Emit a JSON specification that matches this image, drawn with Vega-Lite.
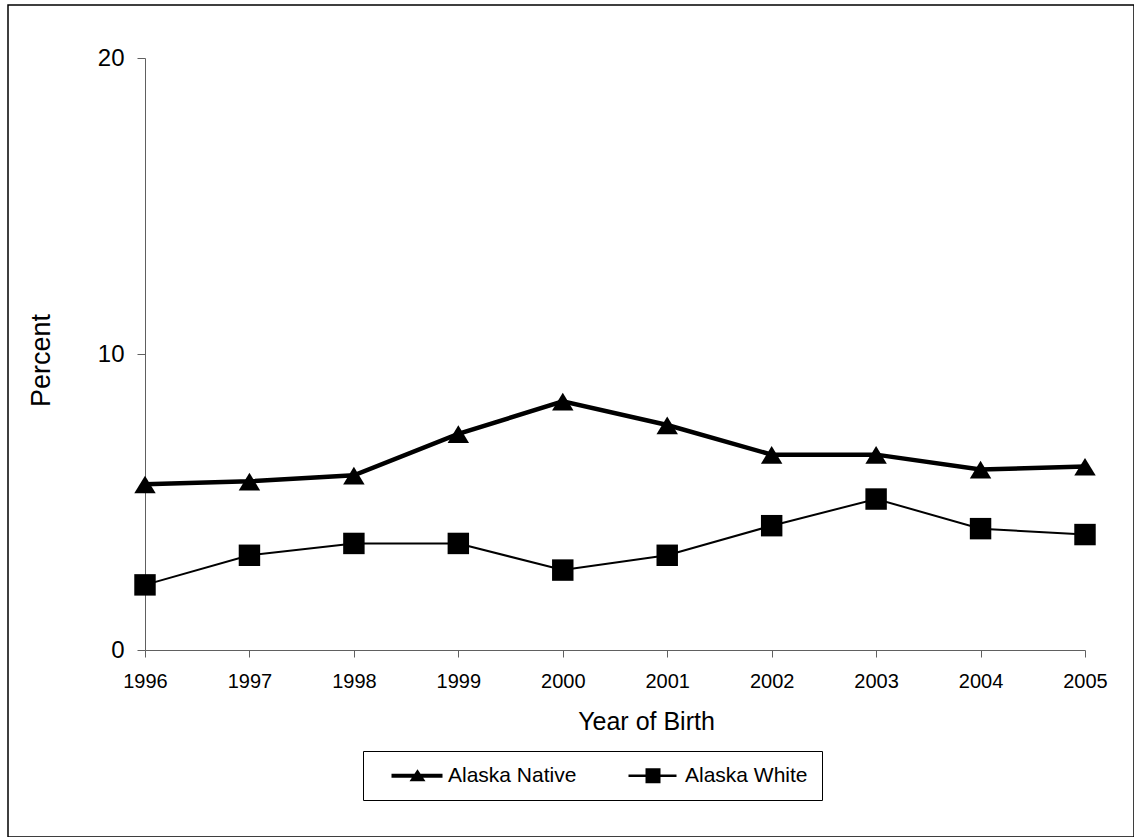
{
  "$schema": "https://vega.github.io/schema/vega-lite/v6.json",
  "width": 1126,
  "height": 832,
  "autosize": {"type": "none"},
  "padding": {"left": 8, "top": 5, "right": 0, "bottom": 0},
  "background": "white",
  "config": {
    "font": "Liberation Sans",
    "view": {"stroke": "black", "strokeWidth": 1.5},
    "axis": {
      "labelColor": "black",
      "titleColor": "black",
      "domainColor": "#606060",
      "tickColor": "#606060",
      "grid": false,
      "labelFlush": false,
      "labelFont": "Liberation Sans",
      "titleFont": "Liberation Sans",
      "titleFontWeight": "normal"
    }
  },
  "datasets": {
    "rates": [
      {"year": 1996, "series": "Alaska Native", "value": 5.6},
      {"year": 1997, "series": "Alaska Native", "value": 5.7},
      {"year": 1998, "series": "Alaska Native", "value": 5.9},
      {"year": 1999, "series": "Alaska Native", "value": 7.3},
      {"year": 2000, "series": "Alaska Native", "value": 8.4},
      {"year": 2001, "series": "Alaska Native", "value": 7.6},
      {"year": 2002, "series": "Alaska Native", "value": 6.6},
      {"year": 2003, "series": "Alaska Native", "value": 6.6},
      {"year": 2004, "series": "Alaska Native", "value": 6.1},
      {"year": 2005, "series": "Alaska Native", "value": 6.2},
      {"year": 1996, "series": "Alaska White", "value": 2.2},
      {"year": 1997, "series": "Alaska White", "value": 3.2},
      {"year": 1998, "series": "Alaska White", "value": 3.6},
      {"year": 1999, "series": "Alaska White", "value": 3.6},
      {"year": 2000, "series": "Alaska White", "value": 2.7},
      {"year": 2001, "series": "Alaska White", "value": 3.2},
      {"year": 2002, "series": "Alaska White", "value": 4.2},
      {"year": 2003, "series": "Alaska White", "value": 5.1},
      {"year": 2004, "series": "Alaska White", "value": 4.1},
      {"year": 2005, "series": "Alaska White", "value": 3.9}
    ],
    "gridlines": [{"value": 10}, {"value": 20}]
  },
  "resolve": {"scale": {"shape": "independent"}, "legend": {"shape": "independent"}},
  "encoding": {
    "x": {
      "field": "year",
      "type": "quantitative",
      "scale": {"domain": [1996, 2005], "range": [137, 1077], "nice": false, "zero": false},
      "axis": {
        "orient": "bottom",
        "offset": -187,
        "values": [1996, 1997, 1998, 1999, 2000, 2001, 2002, 2003, 2004, 2005],
        "format": "d",
        "labelFontSize": 20,
        "tickSize": 7,
        "labelPadding": 14,
        "title": "Year of Birth",
        "titleFontSize": 25,
        "titlePadding": 18,
        "titleX": 638
      }
    },
    "y": {
      "field": "value",
      "type": "quantitative",
      "scale": {"domain": [0, 20], "range": [645, 53], "nice": false},
      "axis": {
        "orient": "left",
        "offset": -137,
        "values": [0, 10, 20],
        "labelFontSize": 24,
        "tickSize": 8,
        "labelPadding": 13,
        "title": "Percent",
        "titleFontSize": 27,
        "titlePadding": 42,
        "titleY": 355
      }
    }
  },
  "layer": [
    {
      "data": {"name": "gridlines"},
      "mark": {"type": "rule", "color": "#808080", "strokeWidth": 1},
      "encoding": {
        "x": {"datum": 1996, "type": "quantitative"},
        "x2": {"datum": 2005}
      }
    },
    {
      "data": {"name": "rates"},
      "mark": {"type": "line", "color": "black"},
      "encoding": {
        "detail": {"field": "series", "type": "nominal"},
        "strokeWidth": {
          "condition": {"test": "datum.series === 'Alaska Native'", "value": 4.5},
          "value": 2
        }
      }
    },
    {
      "data": {"name": "rates"},
      "mark": {"type": "point", "filled": true, "color": "black", "opacity": 1, "size": 460, "strokeWidth": 0},
      "encoding": {
        "shape": {
          "field": "series",
          "type": "nominal",
          "scale": {"domain": ["Alaska Native", "Alaska White"], "range": ["M0,-0.8L1,0.85L-1,0.85Z", "square"]},
          "legend": null
        }
      }
    },
    {
      "data": {"name": "rates"},
      "mark": {"type": "point", "filled": true, "color": "black", "opacity": 1, "size": 0, "strokeWidth": 0},
      "encoding": {
        "shape": {
          "field": "series",
          "type": "nominal",
          "scale": {
            "domain": ["Alaska Native", "Alaska White"],
            "range": [
              "M0.4,-0.2H5.5V0.2H0.4Z M3,-0.65L3.8,0.55L2.2,0.55Z",
              "M0.4,-0.12H5.2V0.12H0.4Z M2.1,-0.75H3.6V0.75H2.1Z"
            ]
          },
          "legend": {
            "orient": "none",
            "legendX": 355,
            "legendY": 746,
            "direction": "horizontal",
            "title": null,
            "strokeColor": "black",
            "fillColor": "white",
            "padding": 14,
            "labelFontSize": 21,
            "labelFont": "Liberation Sans",
            "labelColor": "black",
            "labelOffset": 50,
            "symbolSize": 400,
            "columnPadding": 37,
            "symbolOpacity": 1,
            "symbolStrokeWidth": 0,
            "symbolFillColor": "black"
          }
        }
      }
    }
  ]
}
